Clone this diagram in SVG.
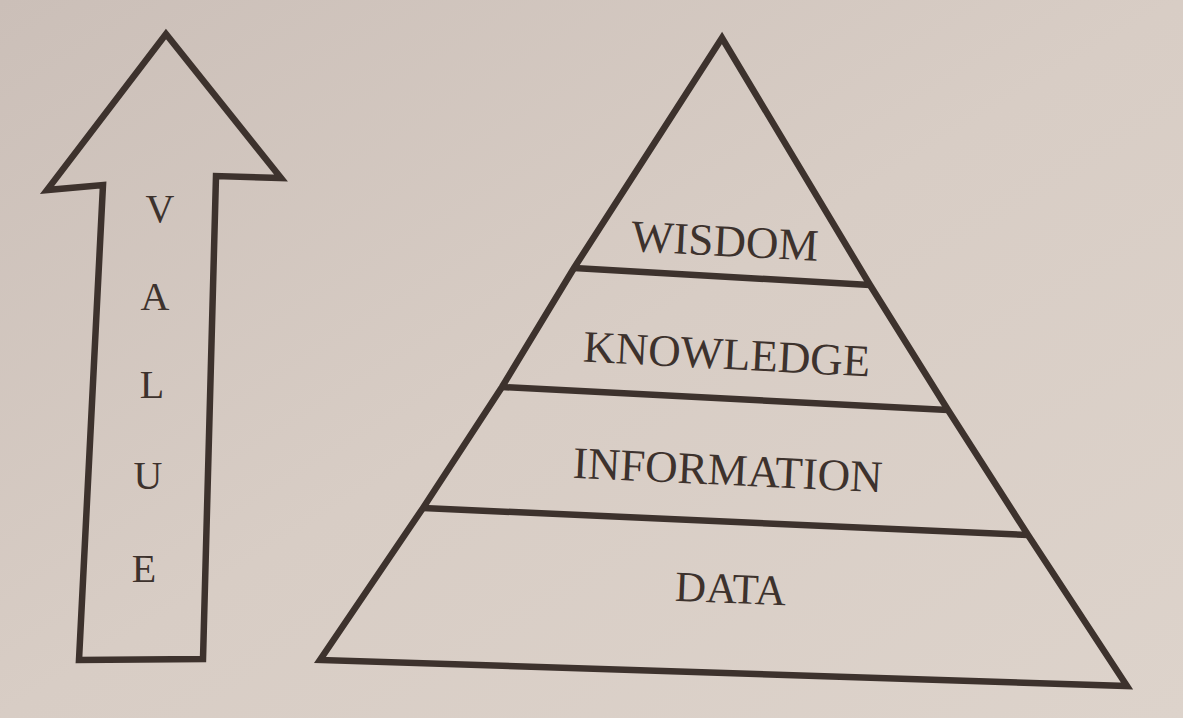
<svg xmlns="http://www.w3.org/2000/svg" width="1183" height="718" viewBox="0 0 1183 718">
  <defs>
    <linearGradient id="paper" x1="0" y1="0" x2="1" y2="1">
      <stop offset="0" stop-color="#cbbfb8"/>
      <stop offset="0.5" stop-color="#d8cdc5"/>
      <stop offset="1" stop-color="#ddd3cb"/>
    </linearGradient>
  </defs>
  <style>
    .ink { fill: none; stroke: #3d322d; stroke-width: 6.5; stroke-linejoin: miter; stroke-linecap: butt; }
    .lbl { font-family: "Liberation Serif", "Times New Roman", serif; fill: #3d322d; text-anchor: middle; }
    .big { font-size: 45px; }
    .letter { font-size: 40px; }
  </style>
  <rect x="0" y="0" width="1183" height="718" fill="url(#paper)"/>

  <g id="value-arrow">
    <polygon class="ink" points="166,34 281,178 216,176 203,659 79,660 103,185 47,190"/>
    <text class="lbl letter" x="160" y="222">V</text>
    <text class="lbl letter" x="155" y="310">A</text>
    <text class="lbl letter" x="152" y="398">L</text>
    <text class="lbl letter" x="148" y="489">U</text>
    <text class="lbl letter" x="144" y="582">E</text>
  </g>

  <g id="pyramid">
    <path class="ink" d="M722,38 L870,285 L948,410 L1028,535 L1127,686 L320,660 L423,508 L502,387 L574,268 Z"/>
  </g>

  <g id="connectors">
    <line class="ink" x1="574" y1="268" x2="870" y2="285"/>
    <line class="ink" x1="502" y1="387" x2="948" y2="410"/>
    <line class="ink" x1="423" y1="508" x2="1028" y2="535"/>
  </g>

  <g id="wisdom">
    <text class="lbl big" x="724" y="256" transform="rotate(3 724 256)">WISDOM</text>
  </g>
  <g id="knowledge">
    <text class="lbl big" x="726" y="369" transform="rotate(3 726 369)">KNOWLEDGE</text>
  </g>
  <g id="information">
    <text class="lbl big" x="727" y="485" transform="rotate(2.7 727 485)">INFORMATION</text>
  </g>
  <g id="data">
    <text class="lbl" style="font-size:43px" x="730" y="603" transform="rotate(2.4 730 603)">DATA</text>
  </g>
</svg>
